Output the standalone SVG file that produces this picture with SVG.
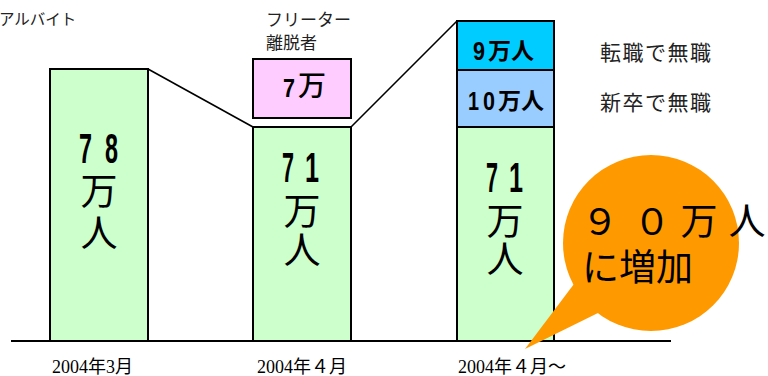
<svg xmlns="http://www.w3.org/2000/svg" width="768" height="376" viewBox="0 0 768 376">
<style>
.bar{stroke:#000;stroke-width:2}
.g{fill:#CCFFCC}
.dig{font-family:"Liberation Sans",sans-serif;font-weight:bold;font-size:42px;fill:#000}
.kj{font-family:"Noto Sans CJK JP",sans-serif;font-size:37px;fill:#000;text-anchor:middle}
.lbl{font-family:"Noto Sans CJK JP",sans-serif;font-size:17px;fill:#222}
.side{font-family:"Noto Sans CJK JP",sans-serif;font-size:21px;fill:#222;letter-spacing:1.5px}
.bd{font-family:"Noto Sans CJK JP",sans-serif;font-weight:bold;font-size:23px;fill:#000}
.bdig{font-family:"Liberation Sans",sans-serif;font-weight:bold;font-size:26px;fill:#000}
.date{font-family:"Liberation Serif","Noto Sans CJK JP",serif;font-size:18px;fill:#000}
.call{font-family:"Noto Sans CJK JP",sans-serif;font-size:37px;fill:#000}
.conn{stroke:#000;stroke-width:1.6;fill:none}
</style>
<rect width="768" height="376" fill="#fff"/>
<text x="-1" y="25" font-family="Noto Sans CJK JP, sans-serif" font-size="15.5" fill="#222">アルバイト</text>

<g id="connectors">
<line class="conn" x1="148" y1="69" x2="253" y2="127"/>
<line class="conn" x1="351" y1="127" x2="457" y2="21"/>
</g>

<g id="bar1">
<rect class="bar g" x="50" y="69" width="98" height="272"/>
<text class="dig" x="79" y="163" textLength="13" lengthAdjust="spacingAndGlyphs">7</text>
<text class="dig" x="105" y="163" textLength="13" lengthAdjust="spacingAndGlyphs">8</text>
<text class="kj" x="99" y="205">万</text>
<text class="kj" x="99" y="247">人</text>
</g>

<g id="bar2">
<rect class="bar g" x="253" y="127" width="98" height="214"/>
<text class="dig" x="282" y="182" textLength="12" lengthAdjust="spacingAndGlyphs">7</text>
<text class="dig" x="305" y="182" textLength="14" lengthAdjust="spacingAndGlyphs">1</text>
<text class="kj" x="302" y="225">万</text>
<text class="kj" x="302" y="264">人</text>
</g>

<g id="freeter-exit">
<text class="lbl" x="266" y="26">フリーター</text>
<text class="lbl" x="266" y="49">離脱者</text>
<rect class="bar" fill="#FFCCFF" x="253" y="59" width="98" height="59"/>
<text class="bdig" x="283" y="97" textLength="12" lengthAdjust="spacingAndGlyphs">7</text>
<text x="298" y="96" font-family="Noto Sans CJK JP, sans-serif" font-weight="500" font-size="28" fill="#000">万</text>
</g>

<g id="bar3">
<rect class="bar g" x="457" y="127" width="97" height="214"/>
<text class="dig" x="486" y="192" textLength="12" lengthAdjust="spacingAndGlyphs">7</text>
<text class="dig" x="509" y="192" textLength="14" lengthAdjust="spacingAndGlyphs">1</text>
<text class="kj" x="505" y="235">万</text>
<text class="kj" x="505" y="273">人</text>
</g>

<g id="job-change">
<rect class="bar" fill="#00CCFF" x="457" y="21" width="97" height="49"/>
<text class="bdig" x="473" y="60" textLength="12" lengthAdjust="spacingAndGlyphs">9</text>
<text class="bd" x="488" y="59">万人</text>
<text class="side" x="600" y="60">転職で無職</text>
</g>

<g id="new-grad">
<rect class="bar" fill="#99CCFF" x="457" y="70" width="97" height="57"/>
<text class="bdig" x="468" y="110" textLength="11" lengthAdjust="spacingAndGlyphs">1</text>
<text class="bdig" x="483" y="110" textLength="12" lengthAdjust="spacingAndGlyphs">0</text>
<text class="bd" x="498" y="109">万人</text>
<text class="side" x="600" y="110">新卒で無職</text>
</g>

<g id="axis">
<line x1="11" y1="341" x2="671" y2="341" stroke="#000" stroke-width="2"/>
<text class="date" x="52" y="373">2004年3月</text>
<text class="date" x="257" y="373">2004年４月</text>
<text class="date" x="458" y="373">2004年４月～</text>
</g>

<g id="callout">
<path d="M577,280 L525,349 L600,312 Z" fill="#FF9900"/>
<circle cx="651" cy="243" r="88" fill="#FF9900"/>
<text class="call" x="600" y="235" text-anchor="middle">９</text>
<text class="call" x="652" y="235" text-anchor="middle">０</text>
<text class="call" x="699" y="235" text-anchor="middle">万</text>
<text class="call" x="747" y="235" text-anchor="middle">人</text>
<text class="call" x="582" y="281">に増加</text>
</g>
</svg>
